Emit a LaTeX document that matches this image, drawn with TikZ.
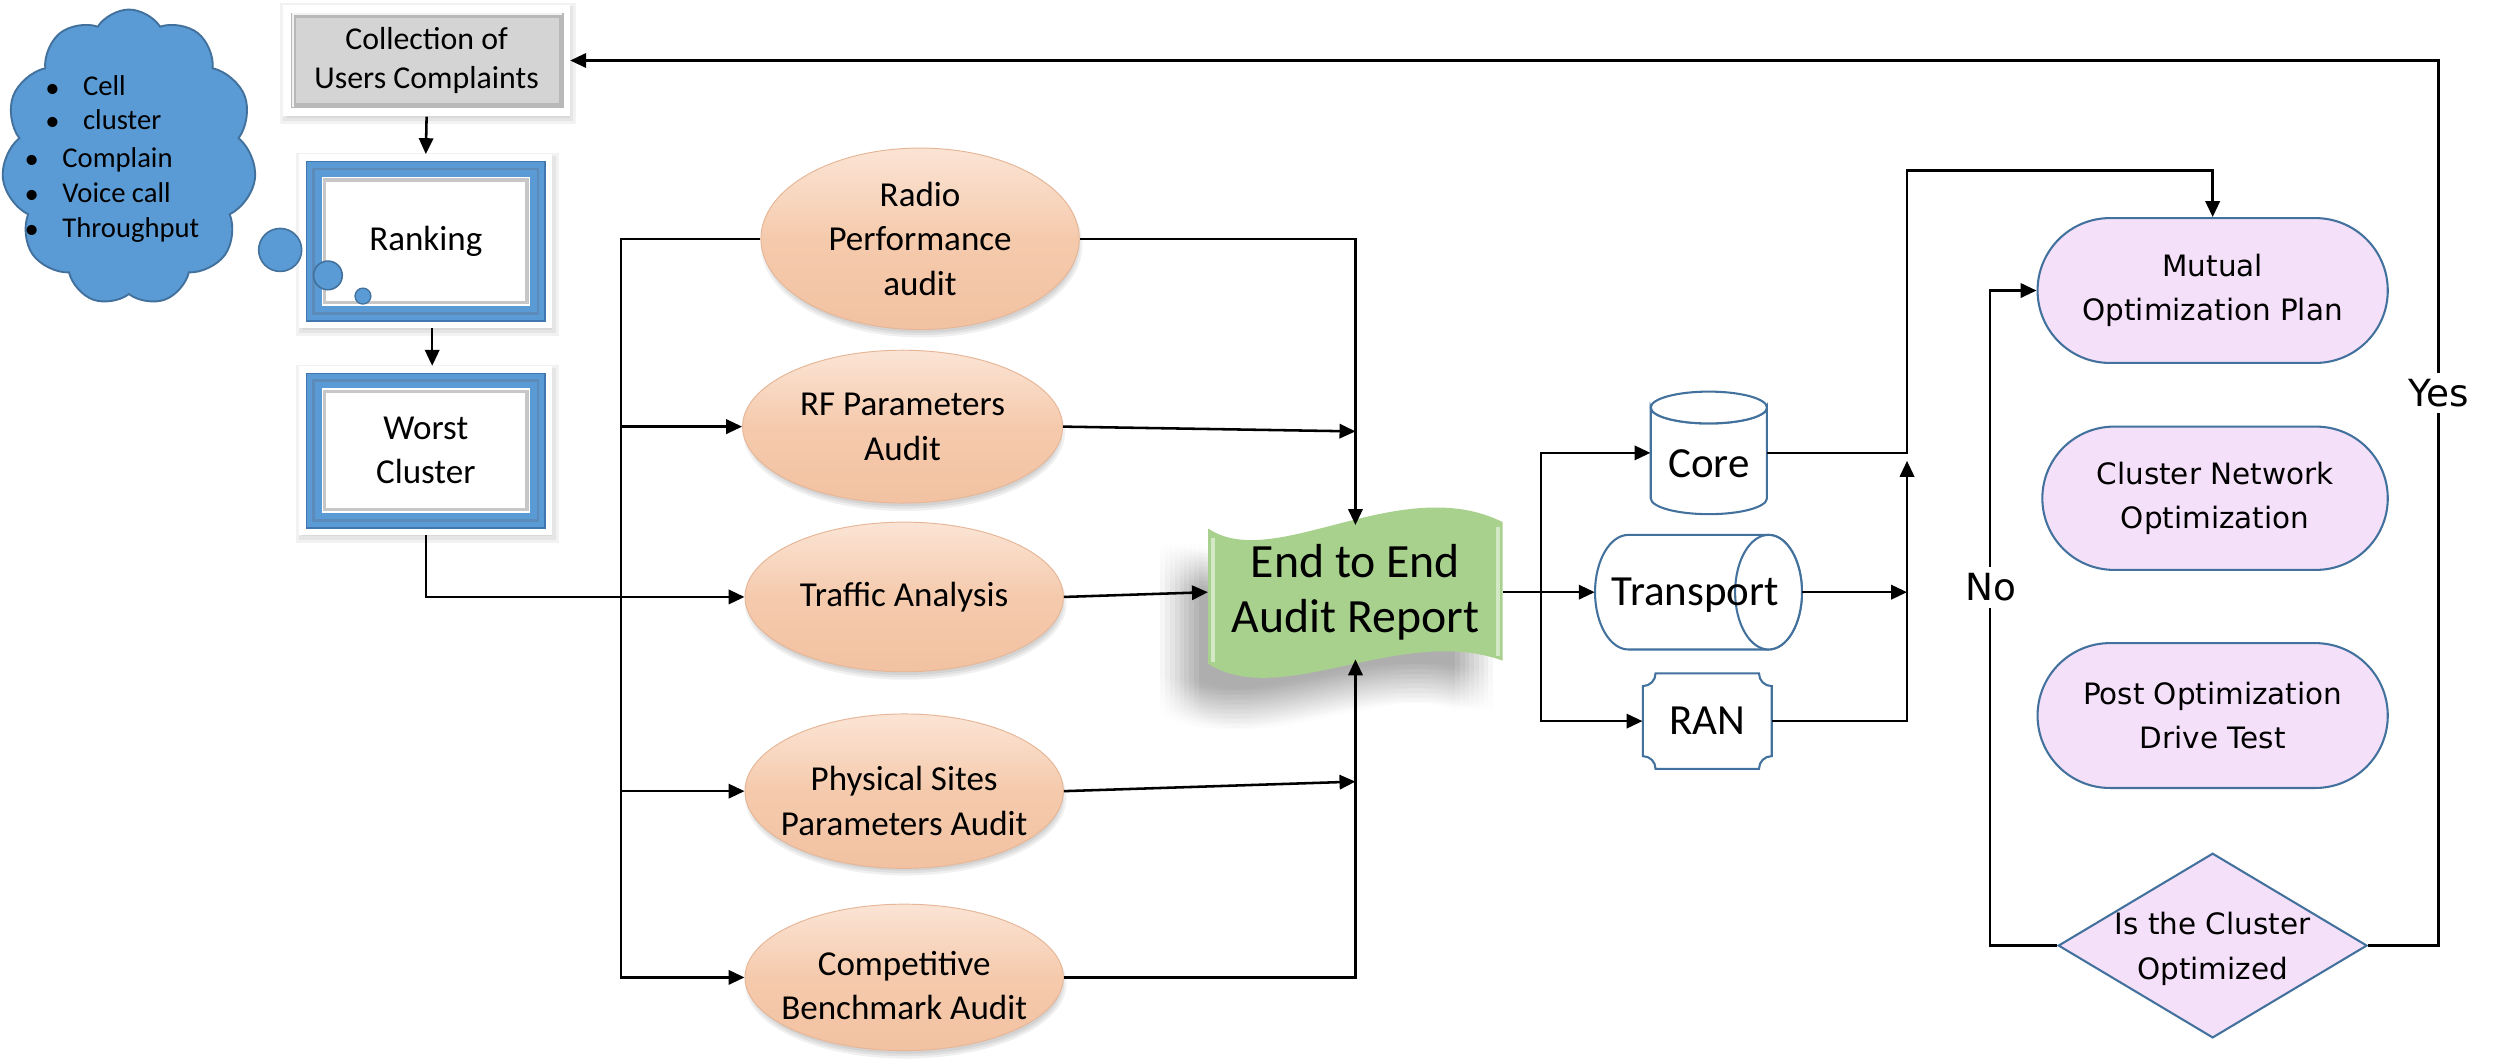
\documentclass[tikz,border=0pt]{standalone}
\usepackage{fontspec}
\setmainfont{Carlito}
\newfontfamily\vfont{DejaVu Sans}
\usetikzlibrary{arrows.meta,shapes.geometric,shapes.symbols,shapes.misc,calc}
\definecolor{cloudblue}{HTML}{5B9BD5}
\definecolor{edgeblue}{HTML}{41719C}
\definecolor{frameblue}{HTML}{5B9BD5}
\definecolor{framedark}{HTML}{3F77AE}
\definecolor{peachtop}{HTML}{FBE4D5}
\definecolor{peachmid}{HTML}{F5CAAC}
\definecolor{peachbot}{HTML}{F2C2A2}
\definecolor{peachedge}{HTML}{E6B697}
\definecolor{lilac}{HTML}{F5E0FA}
\definecolor{tapegreen}{HTML}{A9D18E}
\definecolor{boxgray}{HTML}{D4D4D4}
\definecolor{boxgraydark}{HTML}{B8B8B8}

% white frame with a blue bevelled border and a white panel inside
\newcommand\blueframe[4]{%
  \foreach \s in {0,2,4}{\fill[black,opacity=0.05] (#1-2+\s,#2-1+\s) rectangle (#3+4-\s,#4+5-\s);}
  \fill[white] (#1,#2) rectangle (#3,#4);
  \fill[frameblue] (#1+4,#2+4) rectangle (#3-4,#4-4);
  \draw[framedark,line width=1pt] (#1+4.5,#2+4.5) rectangle (#3-4.5,#4-4.5);
  \draw[framedark!85,line width=1.4pt] (#1+9,#2+9) rectangle (#3-9,#4-9);
  \fill[white] (#1+14,#2+14) rectangle (#3-14,#4-14);
  \draw[black!22,line width=2.2pt] (#1+16,#2+16) rectangle (#3-16,#4-16);
}

% wavy report banner outline
\newcommand\tapepath{(759,332) .. controls (800,360) and (880,296) .. (944,328) -- (944,415) .. controls (880,392) and (805,446) .. (759,417) -- cycle}

\begin{document}
\begin{tikzpicture}[x=1pt,y=-1pt,
  conn/.style={line width=1.6pt,black},
  arr/.style={conn,-{Triangle[length=10pt,width=9pt]}},
  leftfont/.style={font=\fontsize{20}{25}\selectfont},
  frametext/.style={font=\fontsize{22}{28}\selectfont,align=center,inner sep=0pt},
  audit/.style={ellipse,inner sep=0pt,align=center,draw=peachedge,line width=0.6pt,
    top color=peachtop,bottom color=peachbot,middle color=peachmid,
    font=\fontsize{22}{28}\selectfont},
  audittext/.style={font=\fontsize{22}{28}\selectfont,align=center,inner sep=0pt},
  cyl/.style={draw=edgeblue,fill=white,line width=1.3pt},
  nettext/.style={font=\fontsize{27}{32}\selectfont,inner sep=0pt},
  stad/.style={rounded rectangle,fill=lilac,draw=edgeblue,line width=1.3pt,inner sep=0pt,
    align=center,font=\vfont\fontsize{18.5}{28}\selectfont},
  lbl/.style={fill=white,inner sep=4pt,font=\vfont\fontsize{23.5}{28}\selectfont},
  bul/.style={inner sep=0pt,font=\fontsize{18}{22}\selectfont},
  btxt/.style={anchor=west,inner sep=0pt,text height=12.5pt,text depth=4pt,font=\fontsize{18}{22}\selectfont},
]
\useasboundingbox (0,0) rectangle (1568,665);
\fill[white] (0,0) rectangle (1568,665);

% ---------- complaint cloud ----------
\node[cloud,cloud puffs=11,cloud puff arc=115,aspect=0.85,cloud ignores aspect,
  minimum width=160pt,minimum height=186pt,fill=cloudblue,draw=edgeblue,line width=1.2pt] (cloud) at (81,99) {};
\node[bul] (b1) at (33,57) {\textbullet};  \node[btxt] (t1) at (52,56) {Cell};
\node[bul] (b2) at (33,78) {\textbullet};  \node[btxt] (t2) at (52,77) {cluster};
\node[bul] (b3) at (20,102) {\textbullet}; \node[btxt] (t3) at (39,101) {Complain};
\node[bul] (b4) at (20,124) {\textbullet}; \node[btxt] (t4) at (39,123) {Voice call};
\node[bul] (b5) at (20,146) {\textbullet}; \node[btxt] (t5) at (39,145) {Throughput};

% ---------- collection box ----------
\foreach \s in {0,2,4}{\fill[black,opacity=0.05] (176+\s,2+\s) rectangle (362-\s,78-\s);}
\fill[white] (178,3) rectangle (358,73);
\fill[boxgraydark] (183,8) rectangle (354,68);
\fill[boxgray] (186,11) rectangle (351,65);
\draw[white!70!boxgray,line width=1.2pt] (184,67) -- (184,9) -- (353,9);
\node[leftfont,align=center,minimum width=180pt,minimum height=70pt,inner sep=0pt] (collect) at (268,38) {Collection of\\Users Complaints};

% ---------- ranking and worst cluster ----------
\blueframe{188}{97}{347}{206}
\node[frametext,minimum width=159pt,minimum height=109pt] (rank) at (267.5,151.5) {Ranking};
\blueframe{188}{230}{347}{336}
\node[frametext,minimum width=159pt,minimum height=106pt] (worst) at (267.5,283) {Worst\\Cluster};

% thought bubbles
\node[circle,fill=cloudblue,draw=edgeblue,line width=1pt,minimum size=27pt,inner sep=0pt] (bub1) at (176,157) {};
\node[circle,fill=cloudblue,draw=edgeblue,line width=1pt,minimum size=18pt,inner sep=0pt] (bub2) at (206,173) {};
\node[circle,fill=cloudblue,draw=edgeblue,line width=0.8pt,minimum size=10pt,inner sep=0pt] (bub3) at (228,186) {};

% ---------- audit ellipses ----------
\foreach \cx/\cy/\rx/\ry in {578/150/100/57,567/268/100/48,568/375/100/47,568/497/100/48,568/614/100/46}{
  \foreach \d in {0,1.5,3}{\fill[black,opacity=0.06] (\cx+1,\cy+4) ellipse [x radius=\rx+1-\d,y radius=\ry+1-\d];}
}
\node[audit,minimum width=200pt,minimum height=114pt] (radio) at (578,150) {Radio\\Performance\\audit};
\node[audit,minimum width=201pt,minimum height=96pt] (rf) at (567,268) {RF Parameters\\Audit};
\node[audit,minimum width=200pt,minimum height=94pt] (traffic) at (568,375) {Traffic Analysis};
\node[audit,minimum width=200pt,minimum height=97pt] (phys) at (568,497) {};
\node[audittext] (physt) at (568,503) {Physical Sites\\Parameters Audit};
\node[audit,minimum width=200pt,minimum height=92pt] (comp) at (568,614) {};
\node[audittext] (compt) at (568,619) {Competitive\\Benchmark Audit};

% ---------- audit report banner ----------
% soft shadow: many faint copies spread around an offset
\foreach \dx in {-12,-9,...,12}{
  \foreach \dy in {-12,-9,...,12}{
    \begin{scope}[shift={(-18+\dx,20+\dy)}]
      \fill[black,opacity=0.0055] \tapepath;
    \end{scope}
  }
}
\fill[tapegreen] \tapepath;
\draw[white,opacity=0.5,line width=2pt] (762,338) -- (762,416);
\draw[white,opacity=0.5,line width=2pt] (941,331) -- (941,412);
\node[font=\fontsize{30}{35}\selectfont,align=center,minimum width=185pt,minimum height=84pt,inner sep=0pt] (report) at (851.5,372) {End to End\\Audit Report};

% ---------- network domains ----------
\filldraw[cyl] (1037,256) -- (1037,313) arc[start angle=180,end angle=0,x radius=36.5,y radius=10]
  -- (1110,256) arc[start angle=0,end angle=180,x radius=36.5,y radius=10] -- cycle;
\draw[cyl] (1073.5,256) ellipse [x radius=36.5,y radius=10];
\node[minimum width=73pt,minimum height=77pt,inner sep=0pt] (core) at (1073.5,284.5) {};
\node[nettext] (coret) at (1073.5,291) {Core};

\filldraw[cyl] (1023,336) arc[start angle=270,end angle=90,x radius=21,y radius=36]
  -- (1111,408) arc[start angle=90,end angle=-90,x radius=21,y radius=36] -- cycle;
\draw[cyl] (1111,372) ellipse [x radius=21,y radius=36];
\node[minimum width=130pt,minimum height=72pt,inner sep=0pt] (transport) at (1067,372) {};
\node[nettext] (transportt) at (1065,374) {Transport};

\filldraw[cyl] (1040,423) -- (1105,423) .. controls (1105,427.5) and (1108.5,431) .. (1113,431)
  -- (1113,475) .. controls (1108.5,475) and (1105,478.5) .. (1105,483)
  -- (1040,483) .. controls (1040,478.5) and (1036.5,475) .. (1032,475)
  -- (1032,431) .. controls (1036.5,431) and (1040,427.5) .. (1040,423) -- cycle;
\node[nettext,minimum width=81pt,minimum height=60pt] (ran) at (1072.5,453) {RAN};

% ---------- optimisation loop ----------
\node[stad,minimum width=220pt,minimum height=91pt] (mutual) at (1390,182.5) {Mutual\\Optimization Plan};
\node[stad,minimum width=217pt,minimum height=90pt] (clusteropt) at (1391.5,313) {Cluster Network\\Optimization};
\node[stad,minimum width=220pt,minimum height=91pt] (post) at (1390,449.5) {Post Optimization\\Drive Test};
\node[diamond,fill=lilac,draw=edgeblue,line width=1.3pt,inner sep=0pt,minimum width=194pt,minimum height=116pt] (diam) at (1390,594) {};
\node[align=center,inner sep=0pt,font=\vfont\fontsize{18.5}{28}\selectfont] (diamt) at (1390,596) {Is the Cluster\\Optimized};

% ---------- helper coordinates for the routing columns ----------
\coordinate (xl) at (390,0);
\coordinate (xr) at (851.5,0);
\coordinate (xm) at (968,0);
\coordinate (xo) at (1198,0);
\coordinate (yk) at (1198,107);
\coordinate (xn) at (1250,0);
\coordinate (xy) at (1532,0);

% ---------- connectors ----------
\draw[arr] (collect.south) -- (rank.north);
\draw[arr] ([xshift=4pt]rank.south) -- ([xshift=4pt]worst.north);
\draw[arr] (worst.south) |- (traffic.west);

\draw[arr] (radio.west) -| (xl |- comp.west) -- (comp.west);
\draw[arr] (xl |- rf.west) -- (rf.west);
\draw[arr] (xl |- phys.west) -- (phys.west);

\draw[arr] (radio.east) -| (report.north);
\draw[arr] (comp.east) -| (report.south);
\draw[arr] (rf.east) -- ($(xr |- rf.east)+(0,3)$);
\draw[arr] (phys.east) -- ($(xr |- phys.east)+(0,-6)$);
\draw[arr] (traffic.east) -- (report.west);

\draw[arr] (report.east) -- (transport.west);
\draw[arr] (xm |- report.east) |- (core.west);
\draw[arr] (xm |- report.east) |- (ran.west);

\draw[arr] (core.east) -| (yk) -| (mutual.north);
\draw[arr] (transport.east) -- (xo |- transport.east);
\draw[arr] (ran.east) -| ($(xo |- core.east)+(0,5)$);

\draw[arr] (diam.west) -| (xn |- mutual.west) -- (mutual.west);
\draw[arr] (diam.east) -| (xy |- collect.east) -- (collect.east);
\node[lbl] (nolbl) at (1251,369) {No};
\node[lbl] (yeslbl) at (1532,247) {Yes};
\end{tikzpicture}
\end{document}
